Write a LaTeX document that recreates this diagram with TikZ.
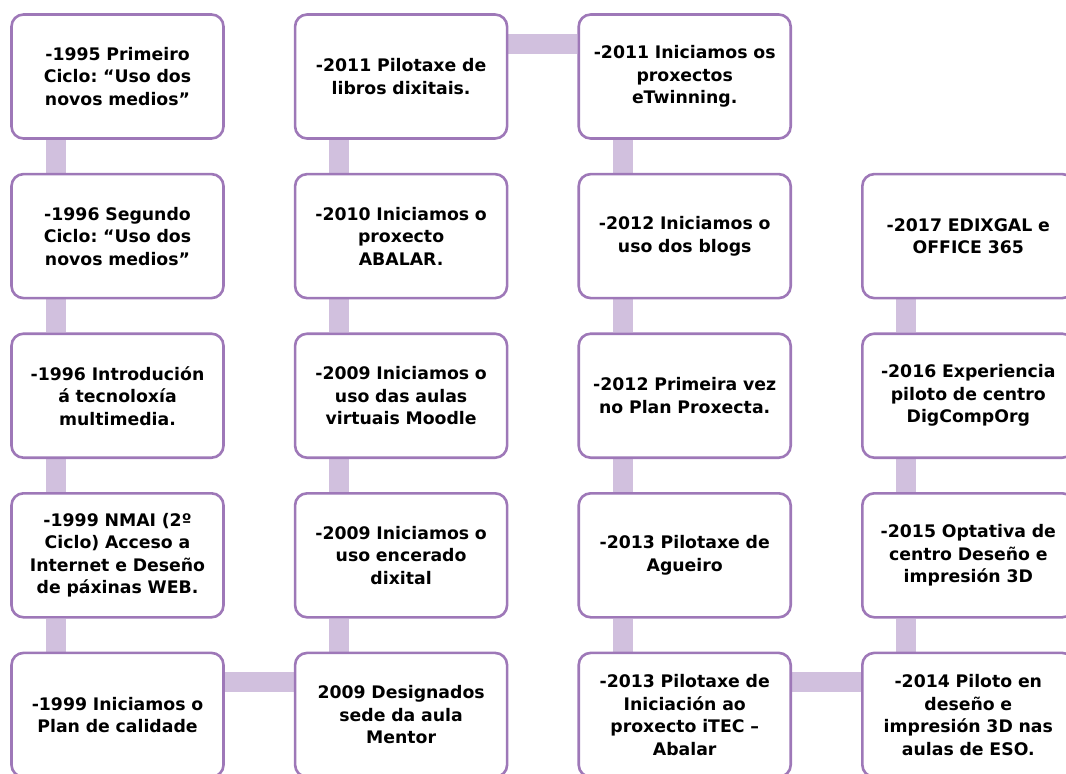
\documentclass[tikz,border=0pt]{standalone}
\usepackage{fontspec}
\setmainfont{DejaVu Sans}
\usepackage{tikz}
\usetikzlibrary{positioning,backgrounds}
\definecolor{tlpurple}{RGB}{158,120,184}
\definecolor{tllightpurple}{RGB}{209,192,222}
\tikzstyle{eventbox} = [rectangle, rounded corners=12pt, minimum width=212pt, minimum height=124pt, inner sep=2pt, text width=206pt, align=center, draw=tlpurple, fill=white, line width=2.6pt, font=\frenchspacing\bfseries\fontsize{17.3}{22.5}\selectfont]
\tikzstyle{bar} = [line width=20pt, color=tllightpurple]

\begin{document}
\begin{tikzpicture}[x=1pt,y=1pt,node distance=33pt and 69pt]
\useasboundingbox (0,0) rectangle (1066,-774);
% first column (downwards)
\node[eventbox] (e1995) at (117.5,-76.5) {-1995 Primeiro\\ Ciclo: “Uso dos\\ novos medios”};
\node[eventbox, below=of e1995] (e1996a) {-1996 Segundo\\ Ciclo: “Uso dos\\ novos medios”};
\node[eventbox, below=of e1996a] (e1996b) {-1996 Introdución\\ á tecnoloxía\\ multimedia.};
\node[eventbox, below=of e1996b] (e1999a) {-1999 NMAI (2º\\ Ciclo) Acceso a\\ Internet e Deseño\\ de páxinas WEB.};
\node[eventbox, below=of e1999a] (e1999b) {-1999 Iniciamos o\\ Plan de calidade};

% second column (upwards)
\node[eventbox, right=of e1999b] (e2009a) {2009 Designados\\ sede da aula\\ Mentor};
\node[eventbox, above=of e2009a] (e2009b) {-2009 Iniciamos o\\ uso encerado\\ dixital};
\node[eventbox, above=of e2009b] (e2009c) {-2009 Iniciamos o\\ uso das aulas\\ virtuais Moodle};
\node[eventbox, above=of e2009c] (e2010) {-2010 Iniciamos o\\ proxecto\\ ABALAR.};
\node[eventbox, above=of e2010] (e2011a) {-2011 Pilotaxe de\\ libros dixitais.};

% third column (downwards)
\node[eventbox, right=of e2011a] (e2011b) {-2011 Iniciamos os\\ proxectos\\ eTwinning.};
\node[eventbox, below=of e2011b] (e2012a) {-2012 Iniciamos o\\ uso dos blogs};
\node[eventbox, below=of e2012a] (e2012b) {-2012 Primeira vez\\ no Plan Proxecta.};
\node[eventbox, below=of e2012b] (e2013a) {-2013 Pilotaxe de\\ Agueiro};
\node[eventbox, below=of e2013a] (e2013b) {-2013 Pilotaxe de\\ Iniciación ao\\ proxecto iTEC –\\ Abalar};

% fourth column (upwards)
\node[eventbox, right=of e2013b] (e2014) {-2014 Piloto en\\ deseño e\\ impresión 3D nas\\ aulas de ESO.};
\node[eventbox, above=of e2014] (e2015) {-2015 Optativa de\\ centro Deseño e\\ impresión 3D};
\node[eventbox, above=of e2015] (e2016) {-2016 Experiencia\\ piloto de centro\\ DigCompOrg};
\node[eventbox, above=of e2016] (e2017) {-2017 EDIXGAL e\\ OFFICE 365};

% Connectors
\begin{pgfonlayer}{background}
\foreach \a/\b in {e1995/e1996a, e1996a/e1996b, e1996b/e1999a, e1999a/e1999b,
                   e2011a/e2010, e2010/e2009c, e2009c/e2009b, e2009b/e2009a,
                   e2011b/e2012a, e2012a/e2012b, e2012b/e2013a, e2013a/e2013b,
                   e2017/e2016, e2016/e2015, e2015/e2014}
  \draw[bar] ([xshift=-62pt]\a.south) -- ([xshift=-62pt]\b.north);
\draw[bar] ([yshift=-30pt]e1999b.north east) -- ([yshift=-30pt]e2009a.north west);
\draw[bar] ([yshift=-31pt]e2011a.north east) -- ([yshift=-31pt]e2011b.north west);
\draw[bar] ([yshift=-30pt]e2013b.north east) -- ([yshift=-30pt]e2014.north west);
\end{pgfonlayer}
\end{tikzpicture}
\end{document}
